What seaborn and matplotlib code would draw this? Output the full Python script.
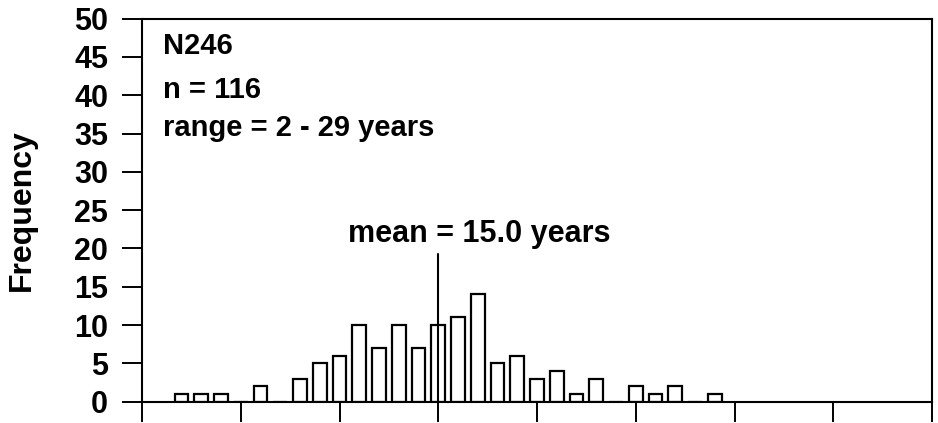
import matplotlib
matplotlib.use("Agg")
import matplotlib.pyplot as plt
import seaborn as sns
import numpy as np

years = [2, 3, 4, 6, 8, 9, 10, 11, 12, 13, 14, 15, 16, 17, 18, 19, 20, 21, 22, 23, 25, 26, 27, 29]
counts = [1, 1, 1, 2, 3, 5, 6, 10, 7, 10, 7, 10, 11, 14, 5, 6, 3, 4, 1, 3, 2, 1, 2, 1]
y_ticks = [0, 5, 10, 15, 20, 25, 30, 35, 40, 45, 50]
x_ticks = [0, 5, 10, 15, 20, 25, 30, 35, 40]
mean_value = 15.0
title_lines = ["N246", "n = 116", "range = 2 - 29 years"]
mean_label = "mean = 15.0 years"

sns.set_theme(style="ticks")
plt.rcParams['font.family'] = ['Liberation Sans', 'DejaVu Sans']
plt.rcParams['font.weight'] = 'bold'
plt.rcParams['text.color'] = 'black'
plt.rcParams['axes.labelcolor'] = 'black'
plt.rcParams['xtick.color'] = 'black'
plt.rcParams['ytick.color'] = 'black'

fig = plt.figure(figsize=(9.38, 4.23), dpi=100)
ax = fig.add_axes([0.1514, 0.0504, 0.8422, 0.9054])

sns.histplot(x=years, weights=counts, discrete=True, shrink=0.7,
             color="white", edgecolor="black", linewidth=1.6, alpha=1,
             ax=ax)

ax.set_xlim(0, 40)
ax.set_ylim(0, 50)
ax.set_xticks(x_ticks)
ax.set_xticklabels([])
ax.set_yticks(y_ticks)
ax.set_yticklabels([str(v) for v in y_ticks], fontsize=22, fontweight='bold')
ax.tick_params(axis='y', direction='out', length=14.4, width=1.4, pad=10, colors='black')
ax.tick_params(axis='x', direction='out', length=14.4, width=1.4, colors='black')
for s in ax.spines.values():
    s.set_visible(True)
    s.set_linewidth(1.5)
    s.set_color('black')

ax.set_ylabel("Frequency", fontsize=23, fontweight='bold')
ax.yaxis.set_label_coords(-0.133, 0.5)
ax.set_xlabel("")

ax.text(1.05, 46.4, title_lines[0], fontsize=21, fontweight='bold', va='center', ha='left')
ax.text(1.05, 40.7, title_lines[1], fontsize=21, fontweight='bold', va='center', ha='left')
ax.text(1.05, 35.7, title_lines[2], fontsize=21, fontweight='bold', va='center', ha='left')

ax.plot([mean_value, mean_value], [0, 19.3], color='black', linewidth=1.5)
ax.text(17.1, 21.9, mean_label, fontsize=22, fontweight='bold', va='center', ha='center')

fig.savefig("out.png", dpi=100)
